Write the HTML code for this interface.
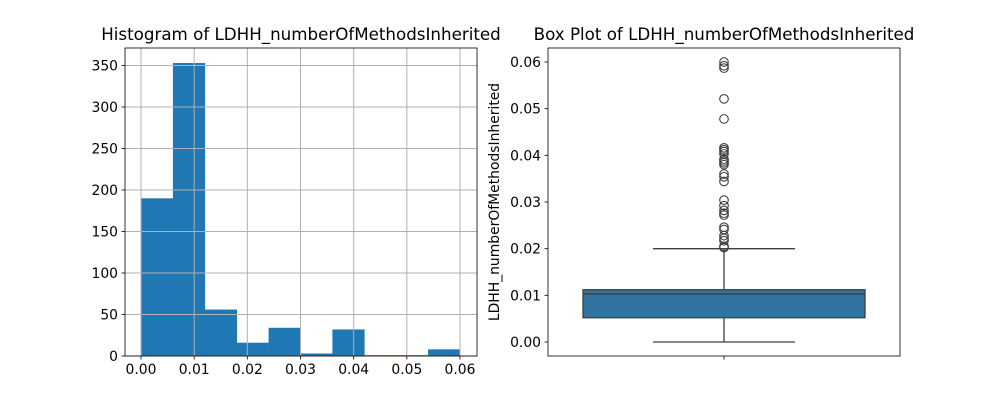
<!DOCTYPE html>
<html><head><meta charset="utf-8"><style>
html,body{margin:0;padding:0;background:#fff;}
svg{display:block;font-family:"DejaVu Sans","Liberation Sans",sans-serif;}
</style></head><body>
<svg id="c" width="1000" height="400" xmlns="http://www.w3.org/2000/svg"></svg>
<script>
const histCounts=[190,353,56,16,34,3,32,1,1,8];
const binStart=0, binWidth=0.006;
const histXTicks=[0,0.01,0.02,0.03,0.04,0.05,0.06];
const histYTicks=[0,50,100,150,200,250,300,350];
const boxStats=[0,0.0052,0.0103,0.0112,0.0200];
const outliers=[0.0600,0.0592,0.0587,0.0521,0.0478,0.0416,0.0412,0.0408,0.0403,0.0392,0.0388,0.0384,0.0380,0.0360,0.0354,0.0344,0.0304,0.0292,0.0282,0.0276,0.0272,0.0246,0.0241,0.0228,0.0222,0.0217,0.0205,0.0202];
const boxYTicks=[0,0.01,0.02,0.03,0.04,0.05,0.06];

const svg=document.getElementById('c');
const NS='http://www.w3.org/2000/svg';
function mk(t,a,p){const e=document.createElementNS(NS,t);for(const k in a)e.setAttribute(k,a[k]);(p||svg).appendChild(e);return e;}
const TF=13.9;

// Left histogram
const L={x0:125,x1:477,y0:48,y1:356};
const hx=v=>141+(v/0.06)*(460-141);
const hy=v=>356-v*(356-65.5)/350;
const g1=mk('g',{});


histCounts.forEach((c,i)=>{const a=hx(binStart+i*binWidth),b=hx(binStart+(i+1)*binWidth);
const r=mk('rect',{x:a,y:hy(c),width:b-a+0.3,height:356-hy(c),fill:'#1f77b4'},g1);
});
histXTicks.forEach(t=>{const l=mk('line',{x1:hx(t),x2:hx(t),y1:L.y0,y2:L.y1,stroke:'#b0b0b0','stroke-width':1},g1);});
histYTicks.forEach(t=>{const l=mk('line',{x1:L.x0,x2:L.x1,y1:hy(t),y2:hy(t),stroke:'#b0b0b0','stroke-width':1},g1);});
const f1=mk('rect',{x:L.x0,y:L.y0,width:L.x1-L.x0,height:L.y1-L.y0,fill:'none',stroke:'#000','stroke-width':0.8},g1);

histXTicks.forEach(t=>{mk('line',{x1:hx(t),x2:hx(t),y1:356,y2:359.5,stroke:'#000','stroke-width':0.8},g1);
const tx=mk('text',{x:hx(t),y:374,'text-anchor':'middle','font-size':TF},g1);tx.textContent=t.toFixed(2);
});
histYTicks.forEach(t=>{mk('line',{x1:L.x0-3.5,x2:L.x0,y1:hy(t),y2:hy(t),stroke:'#000','stroke-width':0.8},g1);
const tx=mk('text',{x:L.x0-7,y:hy(t)+5,'text-anchor':'end','font-size':TF},g1);tx.textContent=t;
});
const t1=mk('text',{x:301,y:40,'text-anchor':'middle','font-size':16.7},g1);t1.textContent='Histogram of LDHH_numberOfMethodsInherited';


// Right box plot
const R={x0:548,x1:900,y0:48,y1:356};
const by=v=>342-v*(342-62)/0.06;
const g2=mk('g',{});


const cx=724;
const ws=[[boxStats[0],boxStats[1]],[boxStats[3],boxStats[4]]];
ws.forEach(w=>{const l=mk('line',{x1:cx,x2:cx,y1:by(w[0]),y2:by(w[1]),stroke:'#3f3f3f','stroke-width':1.3},g2);});
[boxStats[0],boxStats[4]].forEach(v=>{const l=mk('line',{x1:653,x2:795,y1:by(v),y2:by(v),stroke:'#3f3f3f','stroke-width':1.3},g2);});
const bx=mk('rect',{x:583,y:by(boxStats[3]),width:282,height:by(boxStats[1])-by(boxStats[3]),fill:'#3274a1',stroke:'#3f3f3f','stroke-width':1.3},g2);

const md=mk('line',{x1:583,x2:865,y1:by(boxStats[2]),y2:by(boxStats[2]),stroke:'#3f3f3f','stroke-width':1.3},g2);

outliers.forEach(v=>{const c=mk('circle',{cx:cx,cy:by(v),r:4.3,fill:'none',stroke:'#3f3f3f','stroke-width':1.1},g2);
});
const f2=mk('rect',{x:R.x0,y:R.y0,width:R.x1-R.x0,height:R.y1-R.y0,fill:'none',stroke:'#000','stroke-width':0.8},g2);

mk('line',{x1:cx,x2:cx,y1:356,y2:359.5,stroke:'#000','stroke-width':0.8},g2);
boxYTicks.forEach(t=>{mk('line',{x1:R.x0-3.5,x2:R.x0,y1:by(t),y2:by(t),stroke:'#000','stroke-width':0.8},g2);
const tx=mk('text',{x:R.x0-7,y:by(t)+5,'text-anchor':'end','font-size':TF},g2);tx.textContent=t.toFixed(2);
});
const yl=mk('text',{x:499,y:202,'text-anchor':'middle','font-size':TF,transform:'rotate(-90 499 202)'},g2);yl.textContent='LDHH_numberOfMethodsInherited';

const t2=mk('text',{x:724,y:40,'text-anchor':'middle','font-size':16.7},g2);t2.textContent='Box Plot of LDHH_numberOfMethodsInherited';

</script>
</body></html>
